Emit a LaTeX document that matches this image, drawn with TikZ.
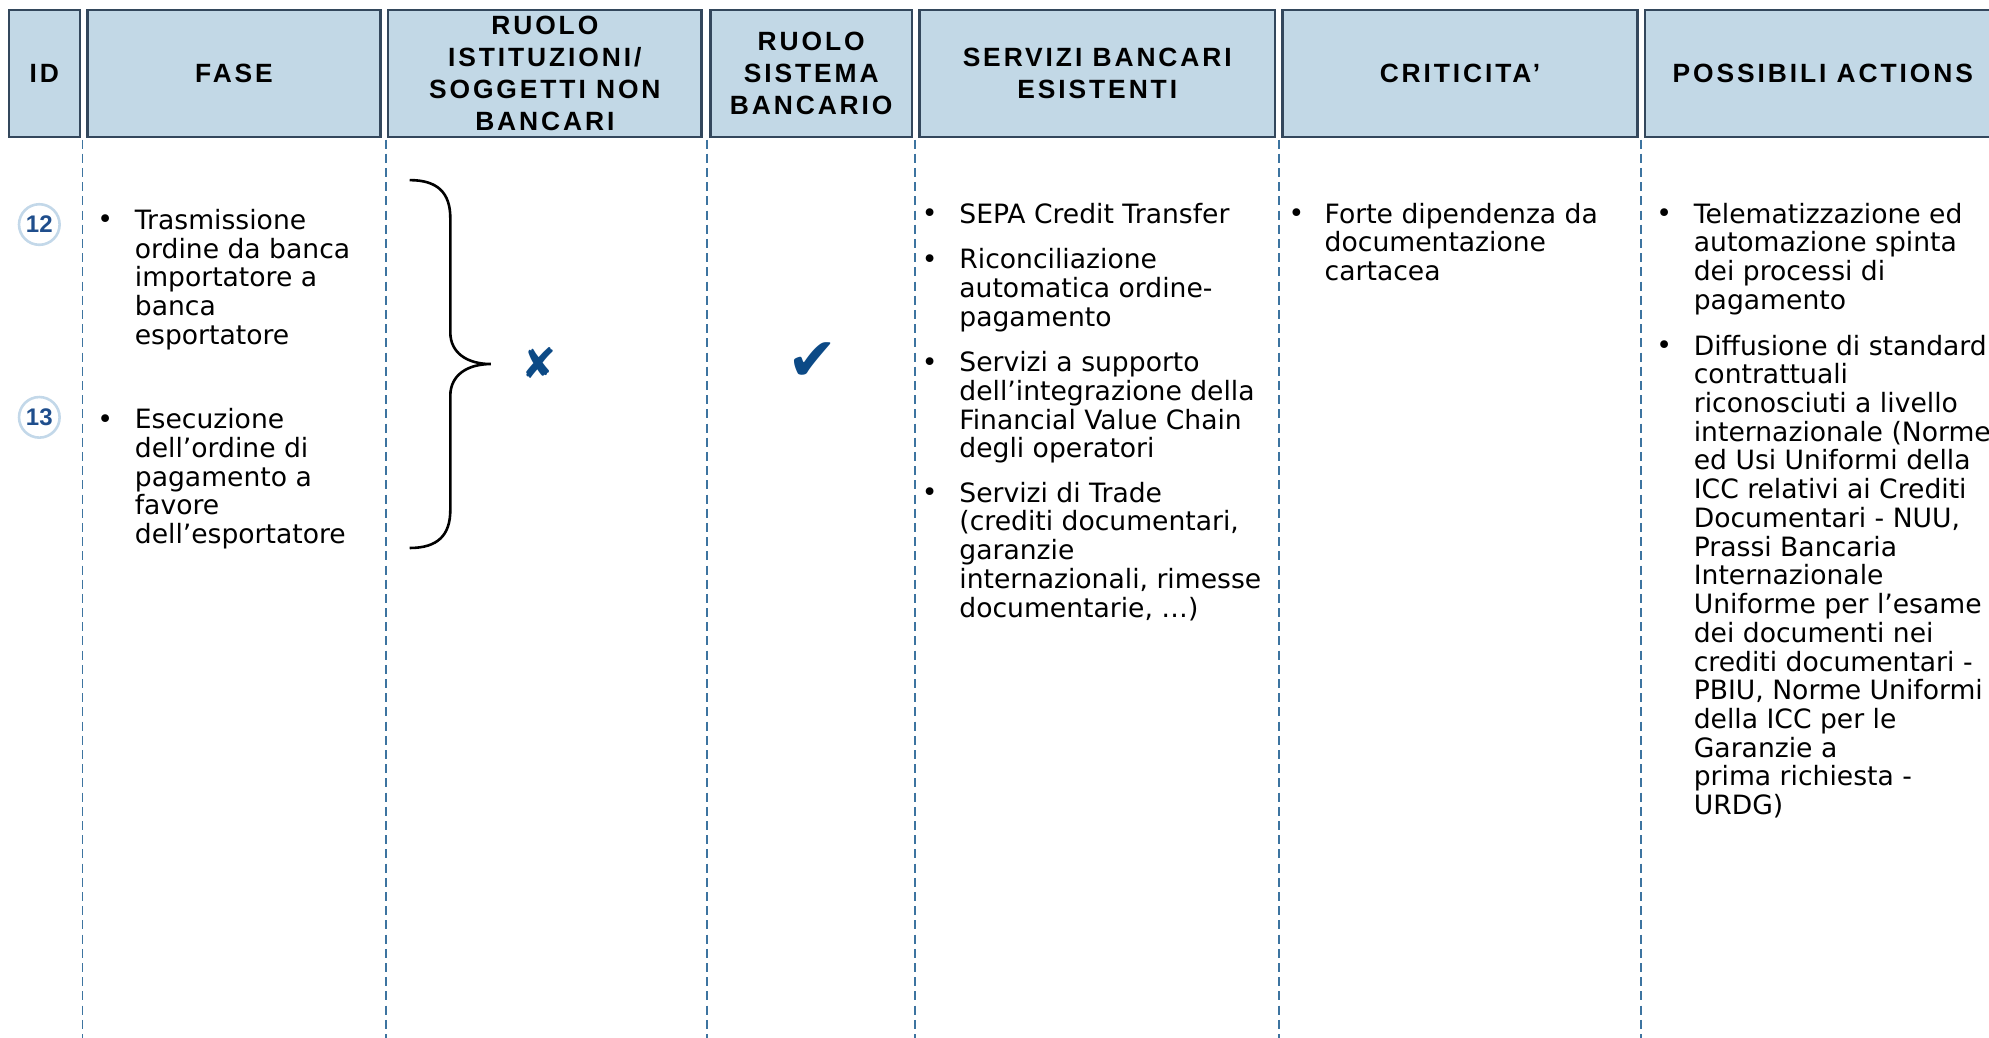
\documentclass[tikz,border=0pt]{standalone}
\usepackage{fontspec}
\setmainfont{DejaVu Sans}
\newfontfamily\hdrfont{Liberation Sans}[LetterSpace=11]
\newfontfamily\numfont{Liberation Sans}
\newfontfamily\symfont{DejaVu Sans}
\definecolor{hdrfill}{HTML}{C2D8E6}
\definecolor{hdrline}{HTML}{33475C}
\definecolor{dashcol}{HTML}{3D74A0}
\definecolor{circcol}{HTML}{C3D8E9}
\definecolor{numcol}{HTML}{1F4E8C}
\definecolor{symcol}{HTML}{0C4A86}
\tikzset{
  hbox/.style={draw=hdrline, line width=1.2pt, fill=hdrfill, inner sep=0pt,
    minimum height=100*0.6343pt, align=center,
    font={\hdrfont\bfseries\fontsize{13.2}{16}\selectfont}},
  sep/.style={draw=dashcol, line width=0.95pt, dash pattern=on 4.5pt off 2.6pt},
  txt/.style={anchor=north west, inner sep=0pt, align=left,
    font={\fontsize{13.3}{14.36}\selectfont}, execute at begin node=\strut},
  bul/.style={anchor=base, inner sep=0pt, font={\fontsize{13.3}{14.36}\selectfont}},
  idcirc/.style={circle, draw=circcol, line width=1.3pt, minimum size=32*0.6343pt,
    inner sep=0pt, text=numcol, font={\numfont\bfseries\fontsize{12}{13}\selectfont}},
  sym/.style={text=symcol, inner sep=0pt}
}
\begin{document}
\begin{tikzpicture}[x=0.6343pt,y=-0.6343pt]
\useasboundingbox (0,0) rectangle (1568,818);
% header
\node[hbox, minimum width=56*0.6343pt] (hid) at (35,58) {ID};
\node[hbox, minimum width=231*0.6343pt] (hfase) at (184.5,58) {FASE};
\node[hbox, minimum width=247*0.6343pt] (hist) at (429.5,58) {RUOLO\\ISTITUZIONI/\\SOGGETTI NON\\BANCARI};
\node[hbox, minimum width=159*0.6343pt] (hsis) at (639.5,58) {RUOLO\\SISTEMA\\BANCARIO};
\node[hbox, minimum width=280*0.6343pt] (hserv) at (865,58) {SERVIZI BANCARI\\ESISTENTI};
\node[hbox, minimum width=280*0.6343pt] (hcrit) at (1151,58) {CRITICITA’};
\node[hbox, minimum width=280*0.6343pt] (hposs) at (1437,58) {POSSIBILI ACTIONS};
% separators
\foreach \xx in {65,304,557,721,1008,1294} {
  \draw[sep] (\xx,110) -- (\xx,818);
}
% ids
\node[idcirc] (c12) at (31,177) {12};
\node[idcirc] (c13) at (31,329) {13};
% fase
\node[bul] (b1) at (83,180.5) {•};
\node[txt] (f1) at (106,164.7) {Trasmissione\\ordine da banca\\importatore a\\banca\\esportatore};
\node[bul] (b2) at (83,337.5) {•};
\node[txt] (f2) at (106,321.7) {Esecuzione\\dell’ordine di\\pagamento a\\favore\\dell’esportatore};
% brace
\draw[line width=1.3pt, black] (323,142) .. controls (345,142) and (355,152) .. (355,172)
  -- (355,262) .. controls (355,278) and (368,287) .. (387,287)
  .. controls (368,287) and (355,296) .. (355,312)
  -- (355,402) .. controls (355,422) and (345,432) .. (323,432);
% symbols
\node[sym, font={\symfont\fontsize{21}{21}\selectfont}] (xmark) at (425,286) {✘};
\node[sym, font={\symfont\fontsize{30}{30}\selectfont}] (vmark) at (641,285) {✔};
% servizi
\node[bul] (s1b) at (733,175.5) {•};
\node[txt] (s1) at (756,159.7) {SEPA Credit Transfer};
\node[bul] (s2b) at (733,211.5) {•};
\node[txt] (s2) at (756,195.7) {Riconciliazione\\automatica ordine-\\pagamento};
\node[bul] (s3b) at (733,292.5) {•};
\node[txt] (s3) at (756,276.7) {Servizi a supporto\\dell’integrazione della\\Financial Value Chain\\degli operatori};
\node[bul] (s4b) at (733,395.5) {•};
\node[txt] (s4) at (756,379.7) {Servizi di Trade\\(crediti documentari,\\garanzie\\internazionali, rimesse\\documentarie, …)};
% criticita
\node[bul] (k1b) at (1022,175.5) {•};
\node[txt] (k1) at (1044,159.7) {Forte dipendenza da\\documentazione\\cartacea};
% possibili
\node[bul] (p1b) at (1312,175.5) {•};
\node[txt] (p1) at (1335,159.7) {Telematizzazione ed\\automazione spinta\\dei processi di\\pagamento};
\node[bul] (p2b) at (1312,279.5) {•};
\node[txt] (p2) at (1335,263.7) {Diffusione di standard\\contrattuali\\riconosciuti a livello\\internazionale (Norme\\ed Usi Uniformi della\\ICC relativi ai Crediti\\Documentari - NUU,\\Prassi Bancaria\\Internazionale\\Uniforme per l’esame\\dei documenti nei\\crediti documentari -\\PBIU, Norme Uniformi\\della ICC per le\\Garanzie a\\prima richiesta -\\URDG)};
\end{tikzpicture}
\end{document}
